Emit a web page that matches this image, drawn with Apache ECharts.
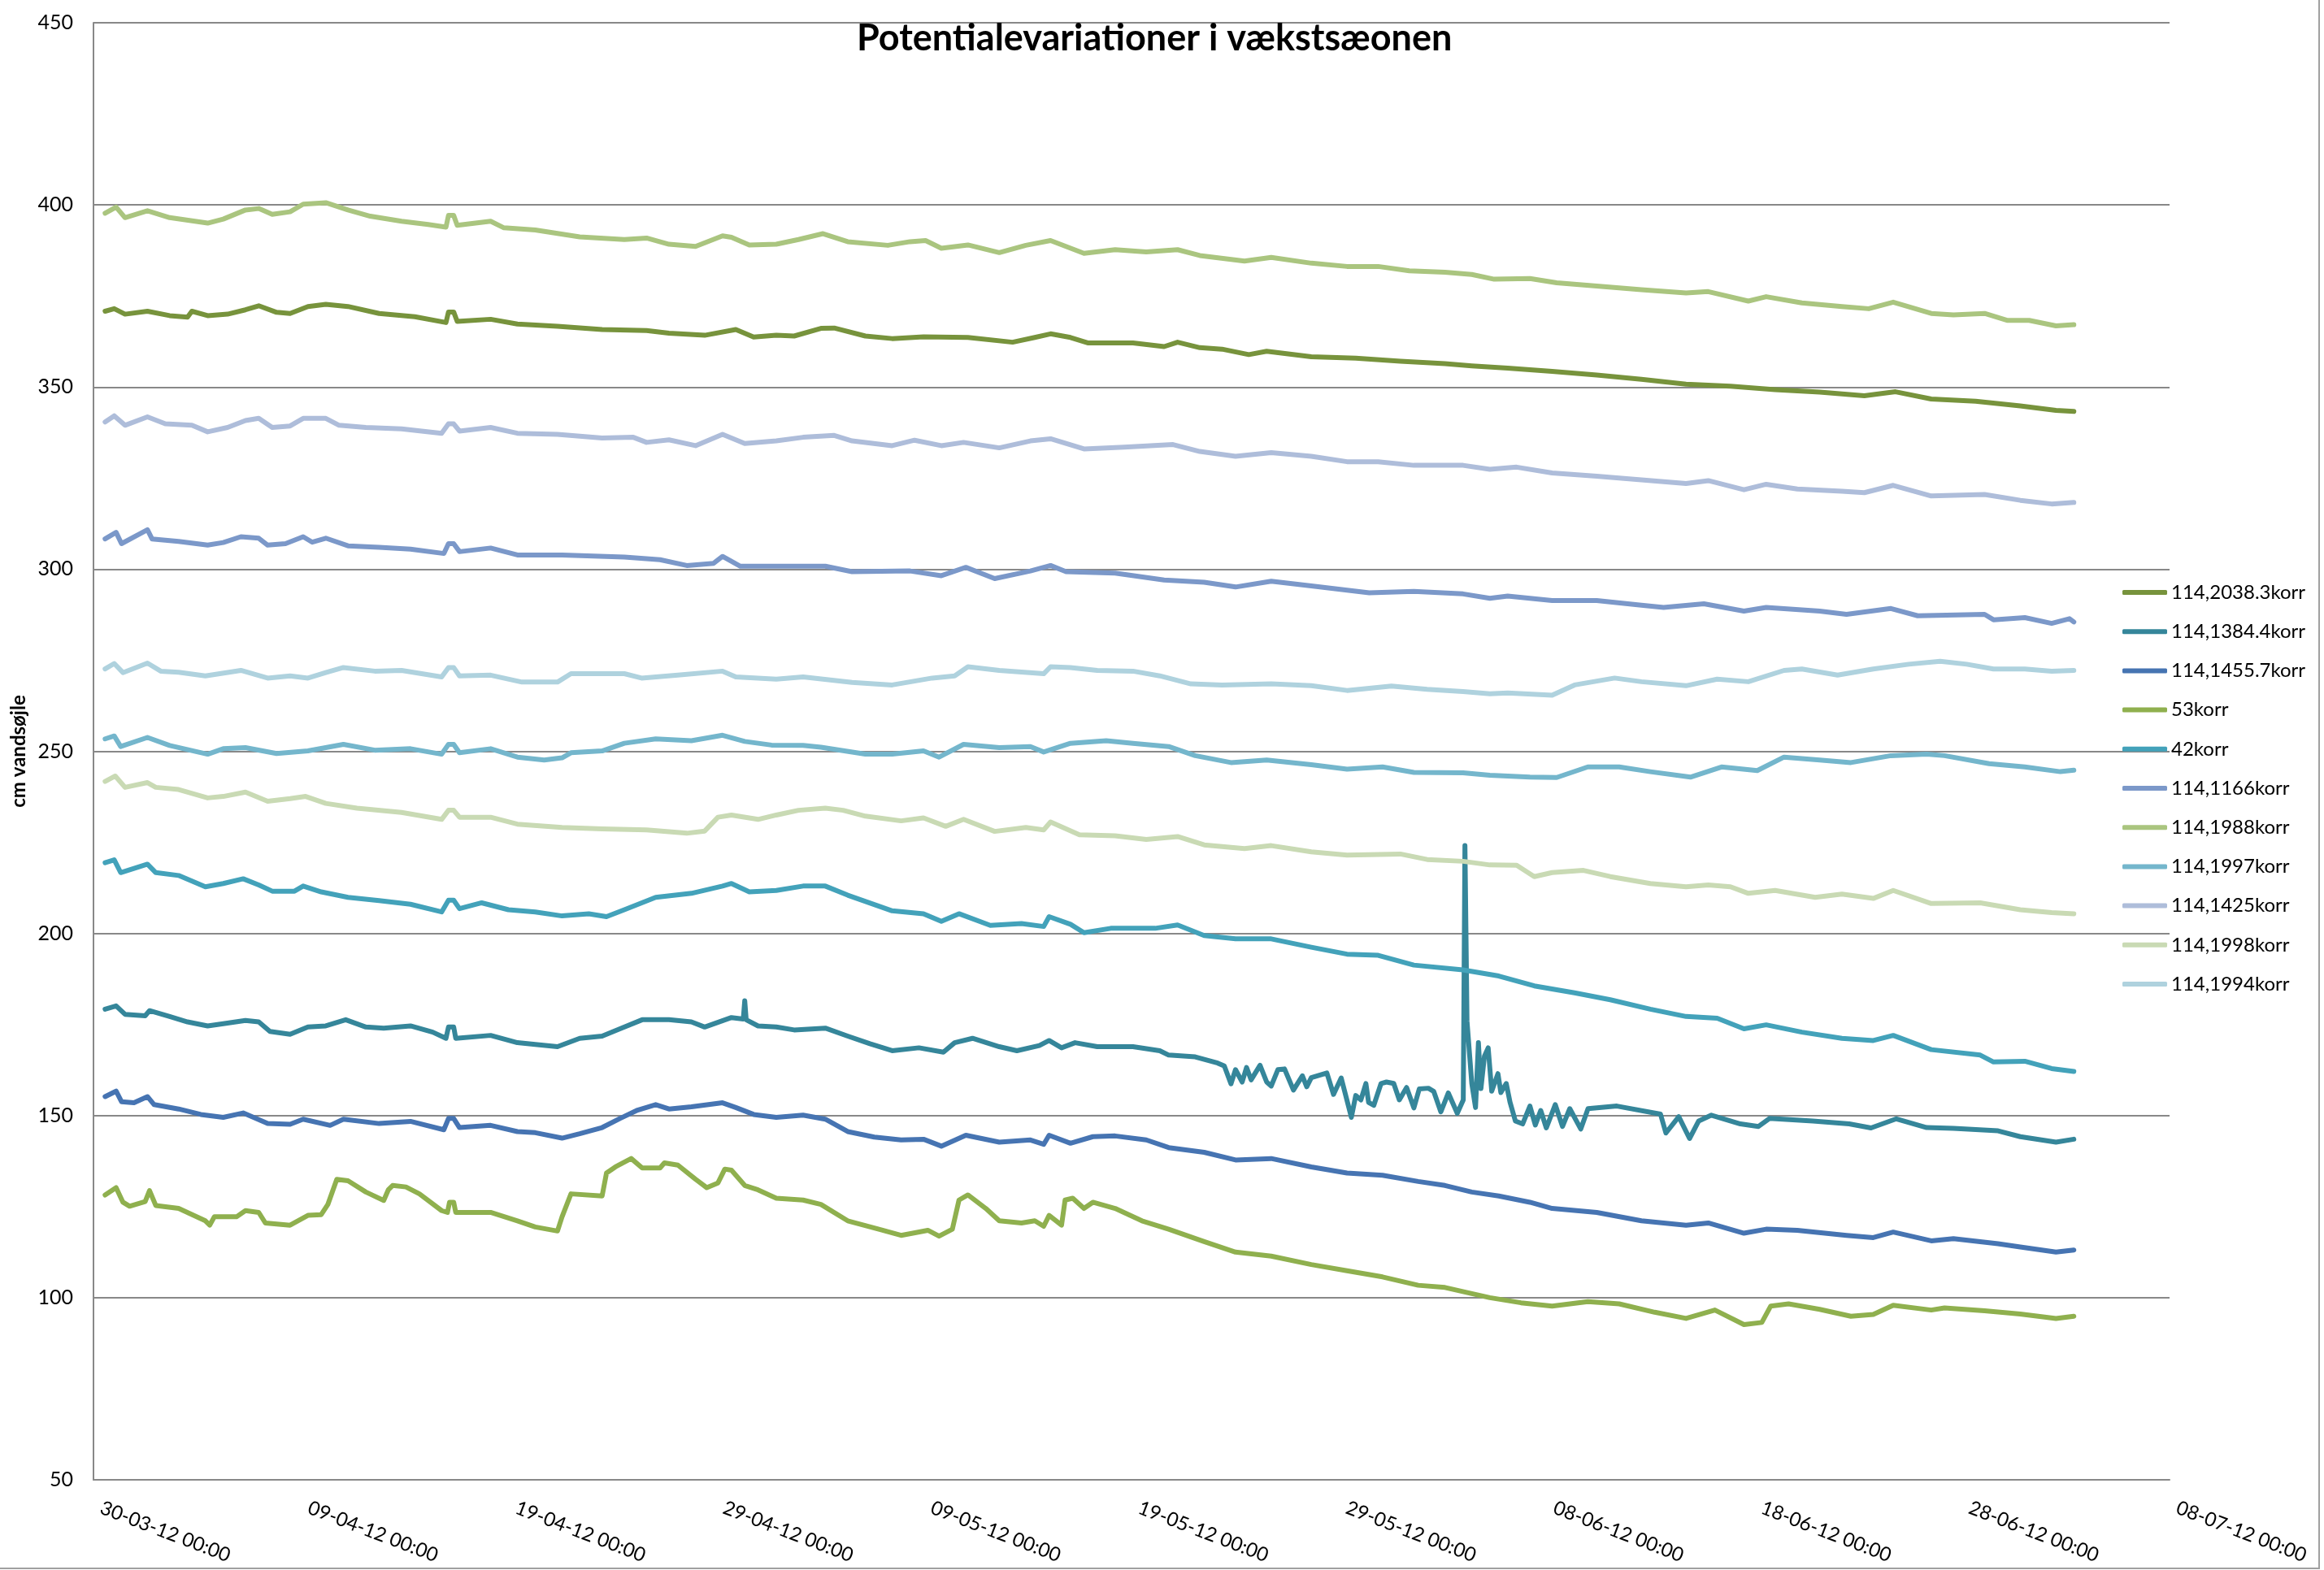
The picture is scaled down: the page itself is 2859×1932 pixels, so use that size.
<!DOCTYPE html>
<html>
<head>
<meta charset="utf-8">
<title>Potentialevariationer i vækstsæonen</title>
<script src="https://cdn.jsdelivr.net/npm/echarts@6/dist/echarts.min.js"></script>
<style>
  html, body { margin: 0; padding: 0; background: #fff; }
  #chart { width: 2859px; height: 1932px; }
</style>
</head>
<body>
<div id="chart"></div>
<script>
// x = days since 30-03-12 00:00, y = cm vandsøjle
const xTickLabels = ['30-03-12 00:00', '09-04-12 00:00', '19-04-12 00:00', '29-04-12 00:00',
  '09-05-12 00:00', '19-05-12 00:00', '29-05-12 00:00', '08-06-12 00:00', '18-06-12 00:00',
  '28-06-12 00:00', '08-07-12 00:00']

const s2038 = [[0.56,370.8],[1.0,371.5],[1.52,370.0],[2.6,370.8],[3.67,369.6],[4.53,369.2],[4.74,370.8],[5.5,369.6],[6.46,370.0],[7.32,371.2],[7.96,372.3],[8.82,370.5],[9.47,370.2],[10.33,372.1],[11.19,372.7],[12.26,372.1],[13.76,370.2],[15.48,369.3],[16.98,367.7],[17.1,370.6],[17.35,370.6],[17.52,368.0],[19.13,368.6],[20.42,367.3],[22.35,366.7],[24.5,365.8],[26.64,365.5],[27.72,364.8],[29.44,364.2],[30.94,365.8],[31.8,363.7],[32.89,364.2],[33.75,364.0],[35.04,366.1],[35.68,366.2],[37.18,364.0],[38.47,363.3],[39.98,363.8],[42.12,363.6],[44.27,362.3],[45.34,363.6],[46.1,364.6],[47.06,363.6],[47.92,362.1],[50.07,362.1],[51.57,361.1],[52.22,362.3],[53.29,360.8],[54.36,360.4],[55.65,358.9],[56.51,359.8],[58.66,358.3],[60.8,357.9],[62.95,357.1],[65.1,356.4],[66.39,355.8],[68.12,355.2],[70.26,354.3],[72.41,353.3],[74.56,352.1],[76.71,350.8],[78.85,350.2],[81.0,349.3],[83.15,348.6],[85.3,347.6],[86.8,348.7],[88.52,346.7],[90.66,346.1],[92.81,344.8],[94.53,343.6],[95.39,343.3]]

const s1384 = [[0.56,179.2],[1.09,180.1],[1.52,177.8],[2.49,177.4],[2.7,178.8],[3.67,177.2],[4.53,175.7],[5.5,174.6],[6.25,175.2],[7.32,176.1],[7.96,175.7],[8.5,173.1],[9.47,172.3],[10.33,174.3],[11.19,174.6],[12.15,176.3],[13.12,174.3],[13.98,174.0],[15.27,174.6],[16.34,172.9],[16.98,171.2],[17.1,174.3],[17.35,174.3],[17.45,171.2],[19.13,172.0],[20.42,170.0],[21.28,169.5],[22.35,168.9],[23.42,171.2],[24.5,171.8],[25.36,173.8],[26.43,176.3],[27.72,176.3],[28.8,175.7],[29.44,174.3],[30.73,176.9],[31.3,176.5],[31.37,181.5],[31.44,176.3],[32.01,174.6],[32.89,174.3],[33.75,173.5],[35.25,174.0],[36.33,171.8],[37.4,169.7],[38.47,167.8],[39.76,168.6],[40.94,167.4],[41.48,170.0],[42.34,171.2],[43.63,168.9],[44.48,167.8],[45.56,169.2],[46.03,170.6],[46.63,168.6],[47.28,170.0],[48.35,168.9],[50.07,168.9],[51.36,167.8],[51.79,166.6],[53.07,166.1],[54.15,164.4],[54.47,163.6],[54.79,158.7],[55.01,162.6],[55.33,159.2],[55.54,163.2],[55.76,159.8],[56.19,163.8],[56.51,159.2],[56.73,158.1],[57.05,162.6],[57.37,162.8],[57.8,157.0],[58.23,160.9],[58.44,157.9],[58.66,160.4],[59.41,161.7],[59.73,155.8],[60.1,160.3],[60.59,149.5],[60.8,155.5],[61.05,154.3],[61.29,158.8],[61.42,153.6],[61.67,152.8],[62.02,158.8],[62.28,159.2],[62.63,158.8],[62.9,154.3],[63.25,157.7],[63.6,152.1],[63.86,157.3],[64.3,157.5],[64.56,156.6],[64.9,151.0],[65.26,156.2],[65.69,150.6],[65.98,154.3],[66.06,224.1],[66.16,175.9],[66.39,158.8],[66.57,152.2],[66.71,170.0],[66.83,157.4],[67.0,166.3],[67.18,168.6],[67.35,156.7],[67.65,161.5],[67.79,156.3],[68.05,158.8],[68.23,153.7],[68.49,148.5],[68.84,147.7],[69.19,152.6],[69.45,147.4],[69.71,151.4],[69.98,146.6],[70.41,153.0],[70.76,147.0],[71.11,151.9],[71.64,146.3],[71.99,151.9],[73.38,152.6],[75.48,150.4],[75.74,145.2],[76.36,149.7],[76.88,143.7],[77.32,148.5],[77.93,150.1],[79.33,147.7],[80.2,147.0],[80.73,149.2],[82.82,148.5],[84.57,147.7],[85.62,146.6],[86.84,149.1],[88.3,146.7],[89.59,146.5],[91.74,145.8],[92.81,144.2],[94.53,142.7],[95.39,143.5]]

const s1455 = [[0.56,155.2],[1.09,156.7],[1.35,153.8],[1.95,153.5],[2.6,155.2],[2.92,153.0],[4.1,151.8],[5.17,150.3],[6.25,149.5],[7.21,150.7],[8.39,147.8],[9.47,147.6],[10.1,149.0],[11.4,147.3],[12.04,149.0],[13.76,147.8],[15.27,148.4],[16.88,146.1],[17.1,149.2],[17.35,149.2],[17.63,146.7],[19.13,147.3],[20.42,145.6],[21.28,145.3],[22.57,143.8],[23.42,145.0],[24.5,146.7],[25.36,149.2],[26.21,151.5],[27.08,153.0],[27.72,151.8],[28.8,152.4],[30.3,153.5],[30.94,152.2],[31.8,150.3],[32.89,149.5],[34.18,150.1],[35.25,149.0],[36.33,145.6],[37.61,144.1],[38.9,143.3],[39.98,143.5],[40.84,141.6],[42.02,144.6],[43.63,142.7],[45.13,143.3],[45.77,142.1],[46.03,144.6],[47.06,142.4],[48.14,144.2],[49.21,144.4],[50.71,143.3],[51.79,141.2],[53.5,139.9],[55.01,137.8],[56.73,138.2],[58.66,135.9],[60.38,134.2],[62.09,133.6],[63.81,131.9],[65.1,130.8],[66.39,129.0],[67.69,127.9],[69.19,126.2],[70.26,124.5],[72.41,123.4],[74.56,121.1],[76.71,119.9],[77.78,120.5],[79.5,117.7],[80.57,118.8],[82.07,118.5],[84.44,117.1],[85.73,116.5],[86.69,118.0],[88.52,115.6],[89.59,116.2],[91.74,114.8],[92.81,113.9],[94.53,112.5],[95.39,113.1]]

const s53 = [[0.56,128.2],[1.09,130.2],[1.42,126.2],[1.74,125.1],[2.49,126.4],[2.7,129.4],[3.0,125.3],[4.1,124.5],[5.39,121.1],[5.6,119.9],[5.82,122.2],[6.89,122.2],[7.32,123.9],[7.96,123.4],[8.28,120.5],[9.47,119.9],[10.33,122.6],[10.97,122.8],[11.29,125.6],[11.72,132.5],[12.26,132.1],[13.12,129.0],[13.98,126.7],[14.2,129.6],[14.41,130.8],[15.05,130.4],[15.7,128.5],[16.77,123.9],[17.05,123.4],[17.15,126.2],[17.35,126.2],[17.45,123.4],[19.13,123.4],[20.42,121.1],[21.28,119.4],[22.35,118.3],[22.57,122.2],[23.0,128.5],[24.5,127.9],[24.71,134.2],[25.14,135.9],[25.9,138.2],[26.43,135.6],[27.29,135.6],[27.5,137.0],[28.15,136.4],[29.0,132.5],[29.54,130.2],[30.08,131.5],[30.41,135.3],[30.73,135.0],[31.37,130.8],[32.01,129.6],[32.89,127.3],[34.18,126.8],[35.04,125.6],[36.33,121.1],[37.83,118.8],[38.9,117.1],[40.19,118.5],[40.73,116.9],[41.37,118.8],[41.69,126.8],[42.12,128.2],[42.98,124.5],[43.63,121.1],[44.7,120.5],[45.34,121.1],[45.77,119.6],[46.03,122.6],[46.63,119.9],[46.8,126.8],[47.17,127.3],[47.71,124.5],[48.14,126.2],[49.21,124.5],[50.5,121.1],[51.79,118.8],[53.5,115.4],[55.01,112.5],[56.73,111.4],[58.66,109.1],[60.38,107.4],[62.09,105.7],[63.81,103.4],[65.1,102.8],[66.39,101.1],[67.26,100.0],[68.76,98.6],[70.26,97.7],[71.98,98.9],[73.49,98.3],[75.2,96.0],[76.71,94.3],[78.1,96.6],[79.5,92.6],[80.36,93.2],[80.79,97.7],[81.65,98.3],[83.15,96.8],[84.65,94.9],[85.73,95.4],[86.69,97.9],[88.52,96.6],[89.16,97.2],[91.09,96.4],[92.81,95.5],[94.53,94.3],[95.39,94.9]]

const s42 = [[0.56,219.4],[1.0,220.2],[1.31,216.7],[2.6,219.0],[3.0,216.7],[4.1,215.9],[5.39,212.8],[6.25,213.7],[7.21,215.0],[7.96,213.3],[8.61,211.6],[9.68,211.6],[10.1,213.0],[10.97,211.4],[12.26,209.9],[13.76,209.0],[15.27,208.0],[16.77,205.9],[17.1,209.1],[17.35,209.1],[17.63,206.8],[18.7,208.4],[19.99,206.5],[21.28,205.9],[22.57,204.8],[23.86,205.4],[24.71,204.6],[25.57,206.5],[27.08,209.9],[28.8,211.0],[30.3,213.0],[30.73,213.7],[31.59,211.4],[32.89,211.8],[34.18,213.0],[35.25,213.0],[36.33,210.5],[38.47,206.2],[39.98,205.4],[40.84,203.3],[41.69,205.4],[43.2,202.2],[44.7,202.7],[45.77,201.9],[46.03,204.6],[47.06,202.5],[47.71,200.2],[49.0,201.4],[51.14,201.4],[52.22,202.3],[53.5,199.4],[55.01,198.5],[56.73,198.5],[58.66,196.2],[60.38,194.3],[61.88,194.0],[63.6,191.3],[65.96,190.0],[67.69,188.3],[69.4,185.6],[71.34,183.7],[73.06,181.8],[74.99,179.2],[76.71,177.2],[78.21,176.7],[79.5,173.8],[80.57,174.9],[82.29,172.9],[84.22,171.2],[85.73,170.6],[86.69,172.0],[88.52,168.1],[90.88,166.6],[91.52,164.7],[93.03,164.9],[94.32,162.9],[95.39,162.1]]

const s1166 = [[0.56,308.3],[1.09,310.1],[1.35,307.0],[2.6,310.8],[2.82,308.3],[4.1,307.6],[5.5,306.6],[6.25,307.3],[7.1,308.9],[7.96,308.5],[8.39,306.6],[9.25,307.0],[10.1,308.9],[10.54,307.4],[11.19,308.5],[12.26,306.4],[13.76,306.0],[15.27,305.5],[16.88,304.3],[17.1,307.0],[17.35,307.0],[17.63,304.8],[19.13,305.8],[20.42,303.9],[22.57,303.9],[25.57,303.3],[27.29,302.6],[28.58,301.0],[29.87,301.6],[30.3,303.5],[31.16,300.8],[32.89,300.8],[35.25,300.8],[36.54,299.3],[39.33,299.5],[40.84,298.2],[42.02,300.5],[43.41,297.4],[45.13,299.5],[46.1,301.0],[46.85,299.3],[49.21,298.9],[51.57,297.0],[53.5,296.4],[55.01,295.1],[56.73,296.7],[58.66,295.4],[61.45,293.5],[63.6,293.9],[65.97,293.2],[67.26,292.0],[68.12,292.6],[70.26,291.4],[72.41,291.4],[74.56,290.1],[75.63,289.5],[77.57,290.5],[79.5,288.5],[80.57,289.5],[83.15,288.5],[84.44,287.6],[86.58,289.2],[87.87,287.2],[91.09,287.6],[91.52,286.1],[93.03,286.7],[94.32,285.1],[95.18,286.4],[95.39,285.5]]

const s1988 = [[0.56,397.7],[1.09,399.4],[1.52,396.5],[2.6,398.4],[3.67,396.5],[5.5,395.0],[6.25,396.1],[7.32,398.6],[7.96,399.0],[8.61,397.4],[9.47,398.1],[10.1,400.2],[11.19,400.6],[12.26,398.6],[13.33,396.9],[14.84,395.5],[16.12,394.6],[16.98,393.9],[17.1,397.1],[17.35,397.1],[17.52,394.4],[19.13,395.5],[19.77,393.7],[21.28,393.1],[23.42,391.2],[25.57,390.5],[26.64,390.9],[27.72,389.2],[29.0,388.6],[30.3,391.5],[30.73,391.1],[31.59,389.0],[32.89,389.2],[33.96,390.5],[35.14,392.1],[36.33,389.9],[38.26,388.9],[39.33,389.9],[40.08,390.2],[40.84,388.1],[42.12,389.0],[43.63,386.9],[44.91,388.9],[46.1,390.2],[47.71,386.7],[49.21,387.7],[50.71,387.1],[52.22,387.7],[53.29,386.1],[55.44,384.6],[56.73,385.6],[58.66,384.0],[60.38,383.1],[61.88,383.1],[63.38,381.9],[65.1,381.5],[66.39,380.9],[67.47,379.6],[69.19,379.8],[70.48,378.6],[72.41,377.7],[74.56,376.7],[76.71,375.8],[77.78,376.2],[79.71,373.6],[80.57,374.8],[82.29,373.1],[84.22,372.1],[85.51,371.5],[86.69,373.3],[88.52,370.2],[89.59,369.8],[91.09,370.2],[92.17,368.3],[93.24,368.3],[94.53,366.8],[95.39,367.1]]

const s1997 = [[0.56,253.4],[1.0,254.2],[1.31,251.3],[2.6,253.8],[3.67,251.6],[5.5,249.2],[6.25,250.7],[7.32,251.0],[8.82,249.4],[10.33,250.1],[12.04,251.9],[13.55,250.3],[15.27,250.7],[16.77,249.2],[17.1,251.9],[17.35,251.9],[17.63,249.6],[19.13,250.7],[20.42,248.4],[21.71,247.6],[22.57,248.2],[23.0,249.6],[24.5,250.1],[25.57,252.2],[27.08,253.4],[28.8,252.9],[30.3,254.4],[31.37,252.7],[32.66,251.7],[34.18,251.6],[35.04,251.1],[37.18,249.2],[38.47,249.2],[39.98,250.1],[40.73,248.4],[41.91,251.9],[43.63,251.0],[45.13,251.3],[45.77,249.8],[47.06,252.2],[48.78,252.9],[50.07,252.2],[51.79,251.3],[53.07,248.8],[54.79,246.9],[56.51,247.6],[58.66,246.3],[60.38,245.1],[62.09,245.7],[63.6,244.2],[65.97,244.1],[67.26,243.4],[69.19,242.9],[70.48,242.8],[71.98,245.7],[73.49,245.7],[74.99,244.4],[76.92,242.9],[78.42,245.7],[80.14,244.7],[81.43,248.4],[83.15,247.6],[84.65,246.9],[86.58,248.8],[88.3,249.2],[89.16,248.8],[91.31,246.6],[93.03,245.7],[94.74,244.4],[95.39,244.8]]

const s1425 = [[0.56,340.4],[1.0,342.1],[1.52,339.5],[2.6,341.8],[3.46,339.9],[4.74,339.5],[5.5,337.7],[6.46,338.9],[7.32,340.8],[7.96,341.4],[8.61,338.9],[9.47,339.3],[10.1,341.4],[11.19,341.4],[11.83,339.5],[13.12,338.9],[14.84,338.5],[16.77,337.3],[17.1,339.9],[17.35,339.9],[17.63,337.9],[19.13,338.9],[20.42,337.3],[22.35,337.0],[24.5,336.0],[26.0,336.2],[26.64,334.8],[27.72,335.5],[29.0,333.9],[30.3,337.0],[31.37,334.5],[32.89,335.2],[34.18,336.2],[35.68,336.7],[36.54,335.2],[38.47,333.9],[39.55,335.4],[40.84,333.9],[41.91,334.8],[43.63,333.3],[45.13,335.2],[46.1,335.8],[47.71,333.0],[49.64,333.5],[52.0,334.2],[53.29,332.3],[55.01,331.0],[56.73,332.0],[58.66,331.0],[60.38,329.5],[61.88,329.5],[63.6,328.5],[65.97,328.5],[67.26,327.4],[68.55,328.0],[70.26,326.4],[72.41,325.5],[74.56,324.5],[76.71,323.5],[77.78,324.3],[79.5,321.8],[80.57,323.3],[82.07,322.0],[84.22,321.4],[85.3,321.0],[86.69,323.0],[88.52,320.1],[91.09,320.5],[92.81,318.9],[94.32,317.9],[95.39,318.3]]

const s1998 = [[0.56,241.7],[1.05,243.2],[1.52,240.1],[2.6,241.4],[3.0,240.1],[4.1,239.5],[5.5,237.2],[6.25,237.6],[7.32,238.8],[8.39,236.3],[9.47,237.0],[10.22,237.6],[11.19,235.7],[12.69,234.4],[14.84,233.2],[16.77,231.3],[17.1,233.8],[17.35,233.8],[17.63,231.9],[19.13,231.9],[20.42,230.0],[22.57,229.1],[24.5,228.7],[26.64,228.4],[28.58,227.5],[29.44,228.1],[30.08,231.9],[30.73,232.5],[32.01,231.3],[32.89,232.5],[33.96,233.8],[35.25,234.4],[36.11,233.8],[37.18,232.2],[38.9,230.9],[39.98,231.7],[41.05,229.4],[41.91,231.3],[43.41,228.0],[44.91,229.1],[45.77,228.4],[46.1,230.6],[47.49,227.1],[49.21,226.8],[50.71,225.8],[52.22,226.6],[53.5,224.3],[55.44,223.3],[56.73,224.1],[58.66,222.4],[60.38,221.5],[62.95,221.8],[64.24,220.3],[65.97,219.8],[67.26,218.8],[68.55,218.7],[69.4,215.6],[70.26,216.7],[71.77,217.3],[73.06,215.6],[74.99,213.7],[76.71,212.8],[77.78,213.3],[78.85,212.8],[79.71,211.0],[81.0,211.8],[82.93,209.9],[84.22,210.8],[85.73,209.6],[86.69,211.8],[88.52,208.2],[90.88,208.4],[92.81,206.5],[94.32,205.7],[95.39,205.4]]

const s1994 = [[0.56,272.6],[1.0,274.1],[1.42,271.6],[2.6,274.2],[3.24,272.0],[4.1,271.7],[5.39,270.7],[7.1,272.2],[8.39,270.1],[9.47,270.7],[10.33,270.1],[11.19,271.6],[12.04,273.0],[13.55,272.0],[14.84,272.2],[16.77,270.4],[17.1,273.0],[17.35,273.0],[17.63,270.7],[19.13,270.9],[20.64,269.0],[22.35,269.0],[23.0,271.3],[25.57,271.3],[26.4,270.1],[28.15,270.9],[30.3,272.0],[30.94,270.4],[32.89,269.8],[34.18,270.4],[36.54,268.9],[38.47,268.2],[40.4,270.1],[41.48,270.7],[42.12,273.2],[43.63,272.2],[45.77,271.3],[46.1,273.2],[47.06,273.0],[48.35,272.2],[50.07,272.0],[51.36,270.7],[52.86,268.5],[54.36,268.2],[56.73,268.5],[58.66,268.0],[60.38,266.7],[62.52,267.9],[64.24,267.0],[65.97,266.4],[67.26,265.8],[68.12,266.0],[70.26,265.4],[71.34,268.2],[73.27,270.1],[74.56,269.1],[76.71,268.0],[78.21,269.8],[79.71,269.1],[81.43,272.2],[82.29,272.6],[84.01,270.9],[85.73,272.6],[87.44,273.9],[88.95,274.7],[90.23,273.9],[91.52,272.6],[93.03,272.6],[94.32,272.0],[95.39,272.2]]

const seriesNames = ['114,2038.3korr', '114,1384.4korr', '114,1455.7korr', '53korr', '42korr',
  '114,1166korr', '114,1988korr', '114,1997korr', '114,1425korr', '114,1998korr', '114,1994korr']
const seriesValues = [s2038, s1384, s1455, s53, s42, s1166, s1988, s1997, s1425, s1998, s1994]
const seriesColors = ['#77933C', '#35869A', '#4674B2', '#8FB04E', '#43A2BA',
  '#7B98C9', '#AAC57F', '#74B6CC', '#AEBDDA', '#C9DAB4', '#AFD2DE']

const font = 'Lato'
const gridColor = '#888888'

const chart = echarts.init(document.getElementById('chart'))

chart.setOption({
  animation: false,
  backgroundColor: '#fff',
  title: {
    text: 'Potentialevariationer i vækstsæonen',
    left: 1054,
    top: 25,
    padding: 0,
    textStyle: { fontFamily: font, fontWeight: 'bold', fontSize: 45, color: '#000' }
  },
  legend: {
    orient: 'vertical',
    left: 2606,
    top: 710,
    icon: 'roundRect',
    itemWidth: 55,
    itemHeight: 6,
    itemGap: 20.2,
    data: seriesNames,
    textStyle: { fontFamily: font, fontSize: 24, color: '#000', lineHeight: 28 }
  },
  grid: { left: 115, right: 190, top: 28, bottom: 111, outerBoundsMode: 'none' },
  xAxis: {
    type: 'value',
    min: 0,
    max: 100,
    interval: 10,
    axisLine: { show: true, onZero: false, lineStyle: { color: gridColor, width: 2 } },
    axisTick: { show: false },
    splitLine: { show: false },
    axisLabel: {
      rotate: -21,
      margin: 30,
      padding: [0, 0, 0, 10],
      hideOverlap: false,
      showMinLabel: true,
      showMaxLabel: true,
      fontFamily: font,
      fontSize: 24,
      color: '#000',
      formatter: (v) => xTickLabels[Math.round(v / 10)]
    }
  },
  yAxis: {
    type: 'value',
    min: 50,
    max: 450,
    interval: 50,
    name: 'cm vandsøjle',
    nameLocation: 'middle',
    nameRotate: 90,
    nameGap: 76,
    nameTextStyle: { fontFamily: font, fontWeight: 'bold', fontSize: 24, color: '#000' },
    axisLine: { show: true, lineStyle: { color: gridColor, width: 2 } },
    axisTick: { show: false },
    splitLine: { lineStyle: { color: gridColor, width: 2 } },
    axisLabel: { margin: 25, fontFamily: font, fontSize: 25, color: '#000' }
  },
  graphic: [{
    type: 'rect',
    silent: true,
    z: -1,
    shape: { x: -5, y: -5, width: 2858, height: 1935 },
    style: { fill: 'none', stroke: '#a0a0a0', lineWidth: 2 }
  }],
  series: seriesNames.map((name, i) => ({
    name,
    type: 'line',
    data: seriesValues[i],
    showSymbol: false,
    symbol: 'none',
    color: seriesColors[i],
    lineStyle: { width: 6, color: seriesColors[i], join: 'round', cap: 'round' }
  }))
})

window.addEventListener('resize', () => chart.resize())
</script>
</body>
</html>
